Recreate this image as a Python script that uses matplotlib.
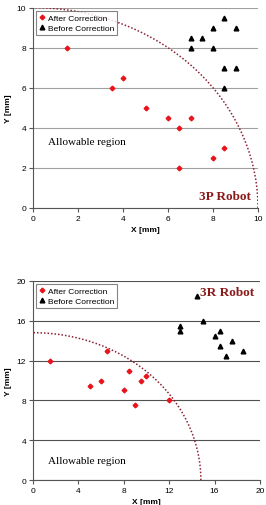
import matplotlib
matplotlib.use('Agg')
import matplotlib.pyplot as plt
import numpy as np

# 3P robot
p_after_x = [1.5, 3.5, 4, 5, 6, 7, 6.5, 6.5, 8, 8.5]
p_after_y = [8, 6, 6.5, 5, 4.5, 4.5, 4, 2, 2.5, 3]
p_before_x = [7, 7.5, 7, 8, 8, 8.5, 9, 8.5, 9, 8.5]
p_before_y = [8.5, 8.5, 8, 9, 8, 9.5, 9, 7, 7, 6]
p_radius = 10

# 3R robot
r_after_x = [1.5, 6.5, 5, 6, 8, 9, 9.5, 8.5, 10, 12]
r_after_y = [12, 13, 9.5, 10, 9, 7.5, 10, 11, 10.5, 8]
r_before_x = [14.5, 13, 13, 15, 16, 16.5, 16.5, 17, 17.5, 18.5]
r_before_y = [18.5, 15.5, 15, 16, 14.5, 15, 13.5, 12.5, 14, 13]
r_radius = 14.8

plt.rcParams['font.family'] = ['Liberation Sans', 'DejaVu Sans']

fig = plt.figure(figsize=(2.66, 5.06), dpi=100)
ax1 = fig.add_axes([0.124, 0.587, 0.846, 0.396])
ax2 = fig.add_axes([0.124, 0.049, 0.853, 0.394])

arc_col = '#8b2335'
title_col = '#8b1a1a'


def draw(ax, ax_x, ay, bx, by, radius, lim, step, grid_col, label, text_xy, label_xy):
    t = np.linspace(0, np.pi / 2, 200)
    ax.plot(radius * np.cos(t), radius * np.sin(t), linestyle=(0, (1, 1.3)),
            color=arc_col, lw=1.1, zorder=2)
    ax.plot(ax_x, ay, linestyle='none', marker='D', ms=2.4, color='#e8141c',
            label='After Correction', zorder=3)
    ax.plot(bx, by, linestyle='none', marker='^', ms=3.4, color='black',
            label='Before Correction', zorder=3)
    ax.set_xlim(0, lim)
    ax.set_ylim(0, lim)
    ax.set_xticks(np.arange(0, lim + 0.1, step))
    ax.set_yticks(np.arange(0, lim + 0.1, step))
    ax.yaxis.grid(True, color=grid_col, lw=0.8)
    ax.set_axisbelow(True)
    for s in ['top', 'right']:
        ax.spines[s].set_visible(False)
    for s in ['left', 'bottom']:
        ax.spines[s].set_color('#555555')
    ax.tick_params(labelsize=6, length=3, width=0.8, color='#555555', pad=2)
    ax.set_xlabel('X [mm]', fontsize=6, fontweight='bold', labelpad=3)
    ax.set_ylabel('Y [mm]', fontsize=6, fontweight='bold', labelpad=3)
    leg = ax.legend(loc='upper left', fontsize=6, frameon=True, fancybox=False,
                    handlelength=0.6, handletextpad=0.4, borderpad=0.35,
                    labelspacing=0.3, borderaxespad=0.4, markerscale=1.0)
    leg.get_frame().set_edgecolor('#666666')
    leg.get_frame().set_linewidth(0.8)
    ax.text(text_xy[0], text_xy[1], 'Allowable region', fontsize=8,
            family='Liberation Serif', va='center', ha='left')
    ax.text(label_xy[0], label_xy[1], label, fontsize=9.5, fontweight='bold',
            family='Liberation Serif', color=title_col, va='center', ha='right')


draw(ax1, p_after_x, p_after_y, p_before_x, p_before_y, p_radius, 10, 2,
     '#a0a0a0', '3P Robot', (0.67, 3.3), (9.7, 0.6))
draw(ax2, r_after_x, r_after_y, r_before_x, r_before_y, r_radius, 20, 4,
     '#505050', '3R Robot', (1.3, 2.0), (19.5, 18.9))

fig.savefig('out.png', dpi=100)
